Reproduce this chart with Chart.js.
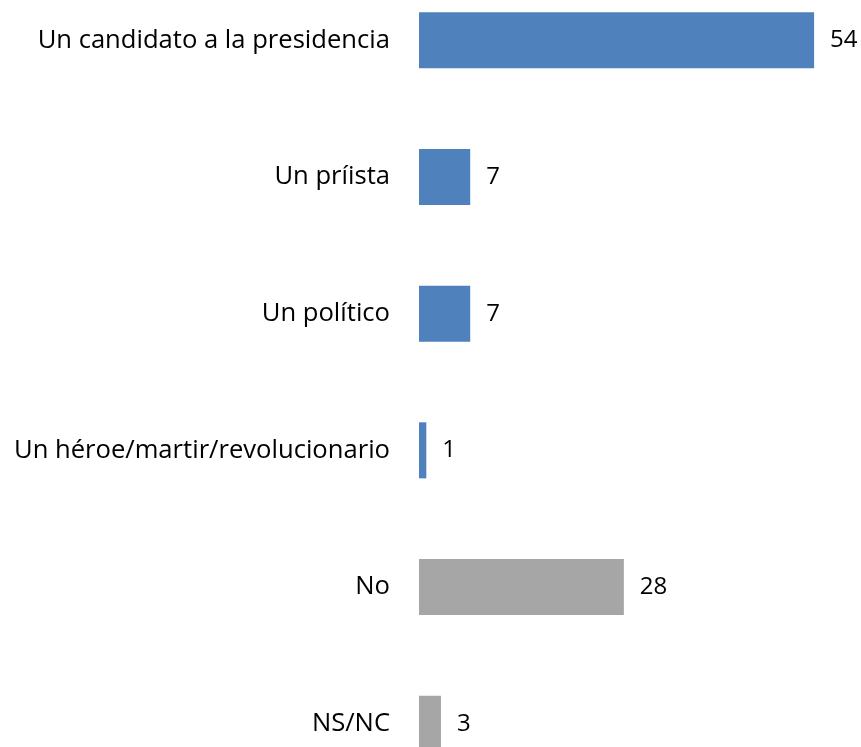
<!DOCTYPE html>
<html>
<head>
<meta charset="utf-8">
<script src="https://cdn.jsdelivr.net/npm/chart.js@4.4.1/dist/chart.umd.min.js"></script>
<style>
  html, body { margin: 0; padding: 0; background: #fff; overflow: hidden; width: 861px; height: 747px; }
  #c { position: absolute; left: 0; top: -28px; }
</style>
</head>
<body>
<canvas id="c" width="861" height="820" style="width:861px;height:820px"></canvas>
<script>
const categories = [
  "Un candidato a la presidencia",
  "Un príista",
  "Un político",
  "Un héroe/martir/revolucionario",
  "No",
  "NS/NC"
];
const values = [54, 7, 7, 1, 28, 3];
const xMin = 0;
const xMax = 60;

const BLUE = "#4F81BD";
const GRAY = "#A6A6A6";
const FONT = { family: "'Open Sans', sans-serif", size: 25.6 };

const valueLabels = {
  id: "valueLabels",
  afterDatasetsDraw(chart) {
    const ctx = chart.ctx;
    const meta = chart.getDatasetMeta(0);
    ctx.save();
    ctx.font = "24px " + FONT.family;
    ctx.fillStyle = "#000";
    ctx.textAlign = "left";
    ctx.textBaseline = "middle";
    meta.data.forEach((bar, i) => {
      ctx.fillText(String(values[i]), bar.x + 16, bar.y);
    });
    ctx.restore();
  }
};

new Chart(document.getElementById("c"), {
  type: "bar",
  data: {
    labels: categories,
    datasets: [{
      data: values,
      backgroundColor: (c) => (c.dataIndex < 4 ? BLUE : GRAY),
      borderWidth: 0,
      categoryPercentage: 1,
      barPercentage: 0.41
    }]
  },
  options: {
    indexAxis: "y",
    responsive: false,
    animation: false,
    devicePixelRatio: 1,
    layout: { padding: { left: 0, right: 3, top: 0, bottom: 0 } },
    plugins: { legend: { display: false }, tooltip: { enabled: false } },
    scales: {
      x: {
        min: xMin, max: xMax,
        display: false,
        grid: { display: false }
      },
      y: {
        grid: { display: false, drawTicks: false },
        border: { display: false },
        ticks: { color: "#000", font: FONT, padding: 29 },
        afterFit(scale) {
          scale.width = 419;
          scale.paddingTop = 0;
          scale.paddingBottom = 0;
        }
      }
    }
  },
  plugins: [valueLabels]
});
</script>
</body>
</html>
